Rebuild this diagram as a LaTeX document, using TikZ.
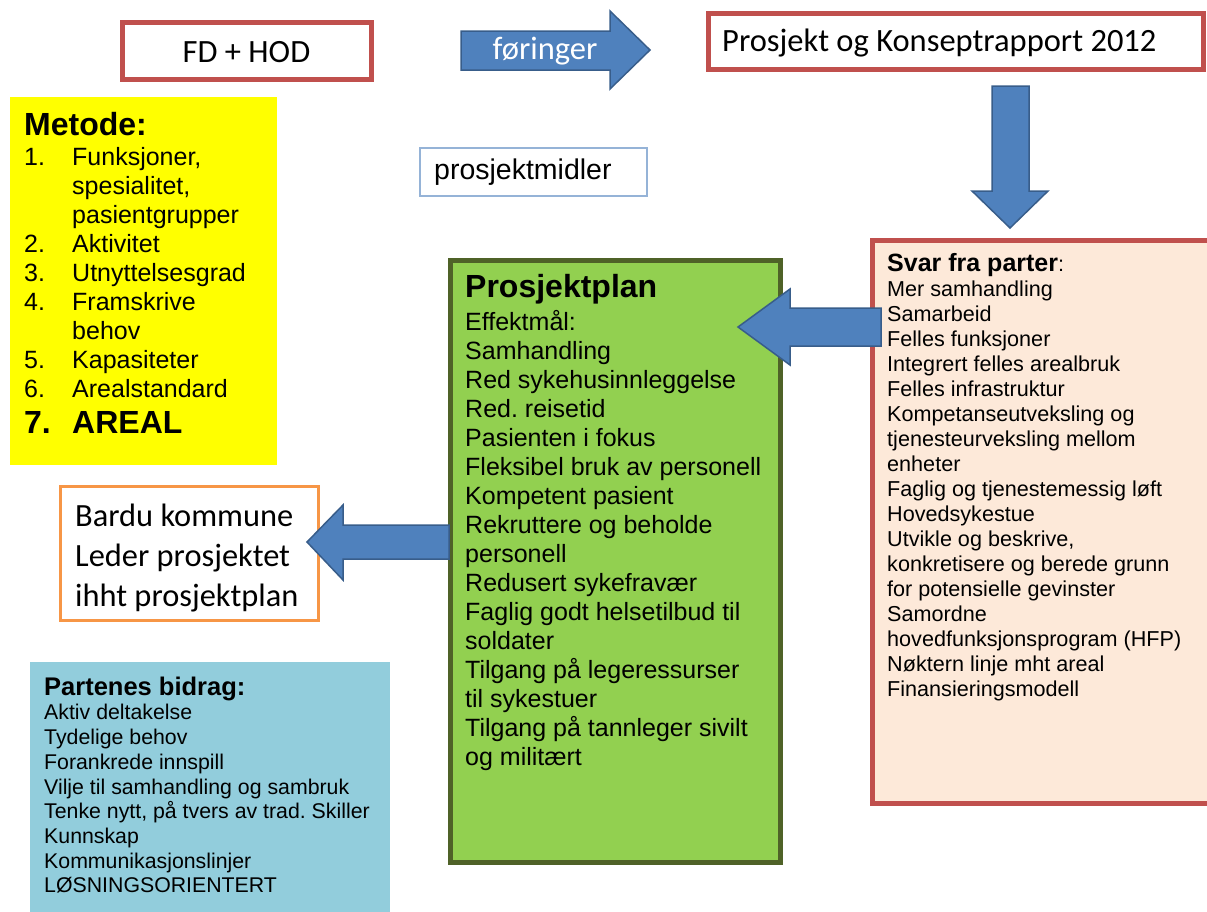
\documentclass[tikz,border=0pt]{standalone}
\usepackage{fontspec}
\setmainfont{Liberation Sans}
\newfontfamily\calibri{Carlito}
\newcommand\setfs[2]{\fontsize{#1}{#2}\selectfont}
\frenchspacing
\definecolor{boxred}{HTML}{C0504D}
\definecolor{arrowblue}{HTML}{4F81BD}
\definecolor{arrowedge}{HTML}{385D8A}
\definecolor{plangreen}{HTML}{92D050}
\definecolor{planedge}{HTML}{4F6228}
\definecolor{peach}{HTML}{FDE9D9}
\definecolor{partblue}{HTML}{92CDDC}
\definecolor{bardu}{HTML}{F79646}
\definecolor{midler}{HTML}{95B3D7}
\definecolor{pureyellow}{HTML}{FFFF00}
\begin{document}
\begin{tikzpicture}[x=1pt,y=-1pt,
  redbox/.style={draw=boxred, line width=5pt, fill=white, rectangle, inner sep=0},
  blockarrow/.style={fill=arrowblue, draw=arrowedge, line width=1.5pt, line join=miter},
  txt/.style={inner sep=0, anchor=north west, align=left},
  plain/.style={rectangle, inner sep=0}]
\useasboundingbox (0,0) rectangle (1207,911);

% top boxes
\node[redbox, minimum width=249pt, minimum height=57pt] (fdhod) at (246.5,50.5) {};
\node[plain, font=\calibri\setfs{32.5}{36}] (fdhodtxt) at (246.5,52) {FD + HOD};
\node[redbox, minimum width=495pt, minimum height=56pt] (rapport) at (955.5,41) {};
\node[plain, anchor=west, font=\calibri\setfs{32.5}{36}] (rapporttxt) at (722,43) {Prosjekt og Konseptrapport 2012};

% føringer arrow
\draw[blockarrow] (461,31) -- (610,31) -- (610,11) -- (650,50) -- (610,89) -- (610,70) -- (461,70) -- cycle;
\node[plain, font=\calibri\setfs{32.5}{36}, text=white] (foringer) at (545,51) {føringer};

% down arrow
\draw[blockarrow] (992,86) -- (1029,86) -- (1029,191) -- (1048,191) -- (1010,228) -- (972,191) -- (992,191) -- cycle;

% Metode
\node[plain, fill=pureyellow, minimum width=267pt, minimum height=368pt] (metode) at (143.5,281) {};
\node[txt, font=\setfs{25}{29}] (metodetxt) at (24,109) {\rule{0pt}{26pt}{\bfseries\setfs{32}{32}Metode:}\\[1pt]
\makebox[48pt][l]{1.}Funksjoner,\\
\hspace*{48pt}spesialitet,\\
\hspace*{48pt}pasientgrupper\\
\makebox[48pt][l]{2.}Aktivitet\\
\makebox[48pt][l]{3.}Utnyttelsesgrad\\
\makebox[48pt][l]{4.}Framskrive\\
\hspace*{48pt}behov\\
\makebox[48pt][l]{5.}Kapasiteter\\
\makebox[48pt][l]{6.}Arealstandard\\[7pt]
{\bfseries\setfs{32}{32}\makebox[48pt][l]{7.}AREAL}};

% prosjektmidler
\node[plain, draw=midler, line width=1.5pt, fill=white, minimum width=227pt, minimum height=48pt] (midlerbox) at (533.5,172) {};
\node[plain, anchor=west, font=\setfs{28.5}{32}] (midlertxt) at (434,172) {prosjektmidler};

% Prosjektplan
\node[plain, fill=plangreen, draw=planedge, line width=5pt, minimum width=330pt, minimum height=602pt] (plan) at (615,561) {};
\node[txt, font=\setfs{25}{29}] (plantxt) at (465,271) {\rule{0pt}{26pt}{\bfseries\setfs{32}{32}Prosjektplan}\\[4pt]
Effektmål:\\
Samhandling\\
Red sykehusinnleggelse\\
Red. reisetid\\
Pasienten i fokus\\
Fleksibel bruk av personell\\
Kompetent pasient\\
Rekruttere og beholde\\
personell\\
Redusert sykefravær\\
Faglig godt helsetilbud til\\
soldater\\
Tilgang på legeressurser\\
til sykestuer\\
Tilgang på tannleger sivilt\\
og militært};

% Svar fra parter
\node[plain, fill=peach, draw=boxred, line width=5pt, minimum width=345pt, minimum height=563pt] (svar) at (1044.5,521.5) {};
\node[txt, font=\setfs{21.6}{25}] (svartxt) at (887,251) {\rule{0pt}{20pt}{\bfseries\setfs{25}{25}Svar fra parter}:\\
Mer samhandling\\
Samarbeid\\
Felles funksjoner\\
Integrert felles arealbruk\\
Felles infrastruktur\\
Kompetanseutveksling og\\
tjenesteurveksling mellom\\
enheter\\
Faglig og tjenestemessig løft\\
Hovedsykestue\\
Utvikle og beskrive,\\
konkretisere og berede grunn\\
for potensielle gevinster\\
Samordne\\
hovedfunksjonsprogram (HFP)\\
Nøktern linje mht areal\\
Finansieringsmodell};

% arrow Svar -> Prosjektplan
\draw[blockarrow] (881,308) -- (790,308) -- (790,289) -- (738,327) -- (790,365) -- (790,346) -- (881,346) -- cycle;

% Bardu
\node[plain, draw=bardu, line width=3pt, fill=white, minimum width=258pt, minimum height=134pt] (bardubox) at (189,553) {};
\node[txt, font=\calibri\setfs{32.4}{40}] (bardutxt) at (75,501) {\rule{0pt}{25pt}Bardu kommune\\
Leder prosjektet\\
ihht prosjektplan};

% arrow Prosjektplan -> Bardu
\draw[blockarrow] (449,525) -- (343,525) -- (343,505) -- (307,542) -- (343,580) -- (343,559) -- (449,559) -- cycle;

% Partenes bidrag
\node[plain, fill=partblue, minimum width=360pt, minimum height=260pt] (partenes) at (210,792) {};
\node[txt, font=\setfs{21.3}{24.7}] (partenestxt) at (44,675) {\rule{0pt}{20pt}{\bfseries\setfs{25.5}{25}Partenes bidrag:}\\
Aktiv deltakelse\\
Tydelige behov\\
Forankrede innspill\\
Vilje til samhandling og sambruk\\
Tenke nytt, på tvers av trad. Skiller\\
Kunnskap\\
Kommunikasjonslinjer\\
LØSNINGSORIENTERT};
\end{tikzpicture}
\end{document}
